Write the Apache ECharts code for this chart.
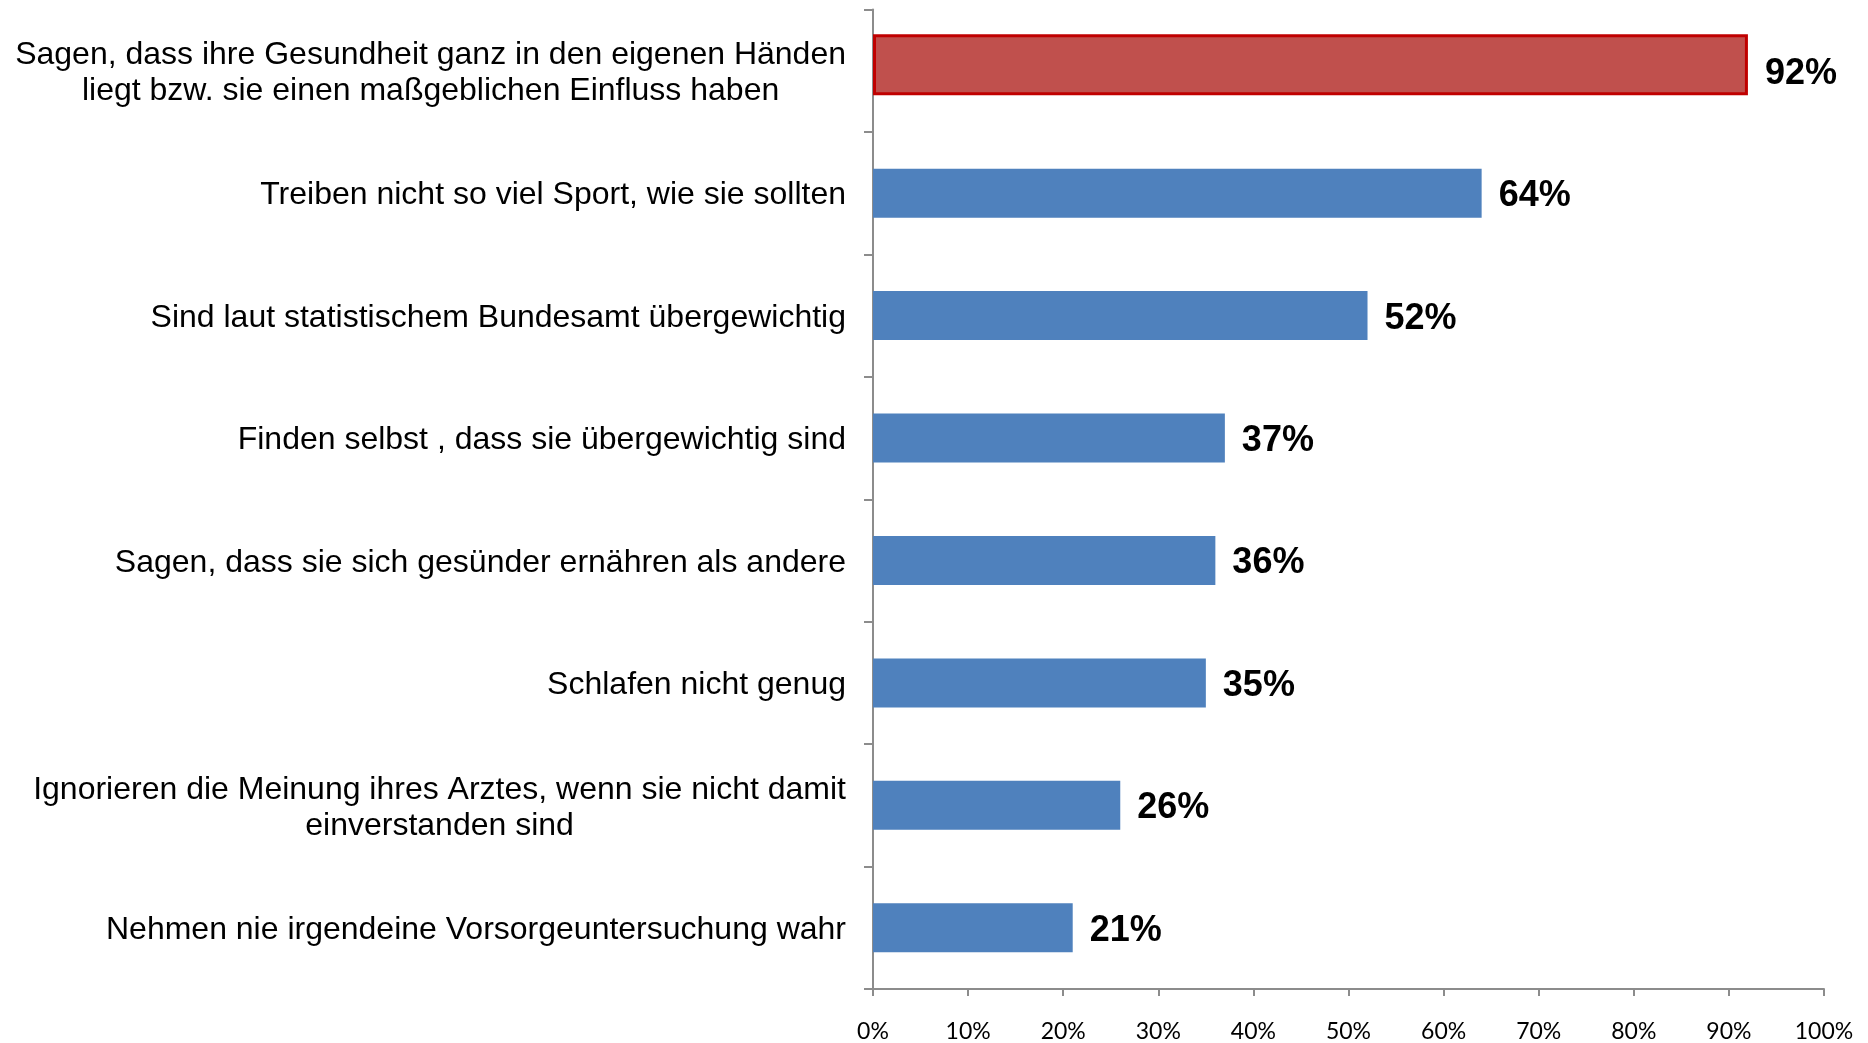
<!DOCTYPE html>
<html>
<head>
<meta charset="utf-8">
<script src="https://cdn.jsdelivr.net/npm/echarts@6/dist/echarts.min.js"></script>
<style>
  html, body { margin: 0; padding: 0; background: #fff; }
  #chart { width: 1868px; height: 1043px; }
</style>
</head>
<body>
<div id="chart"></div>
<script>
// Kategorien (von oben nach unten)
var categories = [
  'Sagen, dass ihre Gesundheit ganz in den eigenen Händen\nliegt bzw. sie einen maßgeblichen Einfluss haben',
  'Treiben nicht so viel Sport, wie sie sollten',
  'Sind laut statistischem Bundesamt übergewichtig',
  'Finden selbst , dass sie übergewichtig sind',
  'Sagen, dass sie sich gesünder ernähren als andere',
  'Schlafen nicht genug',
  'Ignorieren die Meinung ihres Arztes, wenn sie nicht damit\neinverstanden sind',
  'Nehmen nie irgendeine Vorsorgeuntersuchung wahr'
]
var values = [92, 64, 52, 37, 36, 35, 26, 21]
var highlightIndex = 0
var xTicks = [0, 10, 20, 30, 40, 50, 60, 70, 80, 90, 100]

var blueData = []
var redData = []
for (var i = 0; i < values.length; i++) {
  blueData.push(i === highlightIndex ? '-' : values[i])
  redData.push(i === highlightIndex ? values[i] : '-')
}

var blueWidth = 49
var redWidth = 61
// blue bars centred, red bar a bit taller and shifted up
var gap = (-redWidth / blueWidth * 100).toFixed(2) + '%'

var myChart = echarts.init(document.getElementById('chart'))
var option = {
  animation: false,
  grid: { left: 873, right: 44, top: 9.5, bottom: 53, containLabel: false },
  xAxis: {
    type: 'value',
    min: xTicks[0],
    max: xTicks[xTicks.length - 1],
    interval: 10,
    splitLine: { show: false },
    axisLine: { show: true, lineStyle: { color: '#8c8c8c', width: 2 } },
    axisTick: { show: true, length: 7, lineStyle: { color: '#8c8c8c', width: 2 } },
    axisLabel: {
      formatter: '{value}%',
      color: '#000',
      fontFamily: 'Lato',
      fontSize: 23,
      margin: 31
    }
  },
  yAxis: {
    type: 'category',
    inverse: true,
    data: categories,
    axisLine: { show: true, lineStyle: { color: '#8c8c8c', width: 2 } },
    axisTick: { show: true, length: 9, lineStyle: { color: '#8c8c8c', width: 2 } },
    axisLabel: {
      margin: 27,
      padding: [5, 0, 0, 0],
      color: '#000',
      fontFamily: 'Liberation Sans',
      fontSize: 32,
      lineHeight: 36,
      formatter: function (v) {
        return v.split('\n').map(function (l) { return '{c|' + l + '}' }).join('\n')
      },
      rich: {
        c: { align: 'center', fontFamily: 'Liberation Sans', fontSize: 32, lineHeight: 36, color: '#000' }
      }
    }
  },
  series: [
    {
      name: 'blau',
      type: 'bar',
      data: blueData,
      barWidth: blueWidth,
      barGap: gap,
      itemStyle: { color: '#4f81bd' },
      label: {
        show: true,
        position: 'right',
        distance: 17,
        offset: [0, 3],
        formatter: '{c}%',
        color: '#000',
        fontFamily: 'Liberation Sans',
        fontWeight: 'bold',
        fontSize: 36
      }
    },
    {
      name: 'rot',
      type: 'bar',
      data: redData,
      barWidth: redWidth,
      barGap: gap,
      itemStyle: { color: '#c0504d', borderColor: '#c00000', borderWidth: 3 },
      label: {
        show: true,
        position: 'right',
        distance: 17,
        offset: [0, 9],
        formatter: '{c}%',
        color: '#000',
        fontFamily: 'Liberation Sans',
        fontWeight: 'bold',
        fontSize: 36
      }
    }
  ]
}
myChart.setOption(option)
</script>
</body>
</html>
